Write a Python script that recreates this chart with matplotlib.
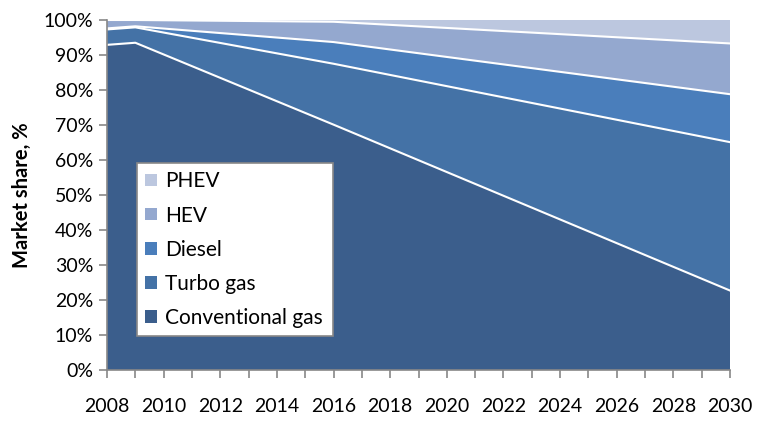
import numpy as np
import matplotlib.pyplot as plt
from matplotlib.ticker import MultipleLocator, FuncFormatter

plt.rcParams['font.family'] = ['Lato', 'DejaVu Sans']

years = [2008, 2009, 2016, 2030]
conventional = [92.9, 93.5, 70.1, 22.7]
turbo = [4.4, 4.4, 17.4, 42.4]
diesel = [0.3, 0.3, 6.2, 13.7]
hev = [2.4, 1.8, 5.8, 14.5]
phev = [0.0, 0.0, 0.5, 6.7]

labels = ['Conventional gas', 'Turbo gas', 'Diesel', 'HEV', 'PHEV']
colors = ['#3b5e8c', '#4472a6', '#4a7ebb', '#94a8cf', '#bcc7df']

fig = plt.figure(figsize=(7.57, 4.22), dpi=100)
ax = fig.add_axes([107 / 757, 1 - 370 / 422, 623 / 757, 350 / 422])

series = [conventional, turbo, diesel, hev, phev]
polys = ax.stackplot(years, *series, colors=colors, labels=labels, linewidth=0)

# white boundary lines between the layers
cum = np.cumsum(np.array(series), axis=0)
for row in cum[:-1]:
    ax.plot(years, row, color='white', lw=1.5)

ax.set_xlim(2008, 2030)
ax.set_ylim(0, 100)
ax.xaxis.set_major_locator(MultipleLocator(2))
ax.xaxis.set_minor_locator(MultipleLocator(1))
ax.yaxis.set_major_locator(MultipleLocator(10))
ax.yaxis.set_major_formatter(FuncFormatter(lambda v, p: f'{v:.0f}%'))

for s in ['top', 'right']:
    ax.spines[s].set_visible(False)
for s in ['left', 'bottom']:
    ax.spines[s].set_color('#888888')
    ax.spines[s].set_linewidth(1.2)
ax.tick_params(axis='both', which='both', color='#888888', width=1.2, labelsize=14)
ax.tick_params(axis='x', which='both', length=6, pad=14)
ax.tick_params(axis='y', length=6, pad=4)

ax.set_ylabel('Market share, %', fontsize=14.5, fontweight='bold', labelpad=8)

handles, labs = ax.get_legend_handles_labels()
leg = ax.legend(handles[::-1], labs[::-1], loc='upper left',
                bbox_to_anchor=(30 / 623, 204 / 350, 196 / 623, 3 / 350), mode='expand',
                borderaxespad=0, fontsize=15, fancybox=False, framealpha=1,
                edgecolor='#888888', handlelength=0.55, handleheight=0.55,
                handletextpad=0.4, labelspacing=0.68, borderpad=0.4)
leg.get_frame().set_linewidth(1.2)

fig.savefig('out.png', dpi=100)
